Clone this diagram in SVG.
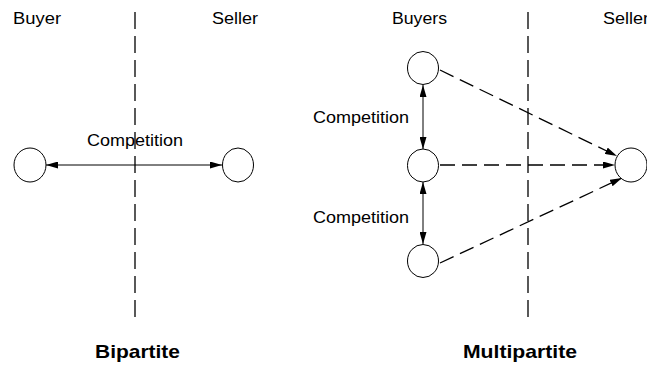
<svg xmlns="http://www.w3.org/2000/svg" width="647" height="365" viewBox="0 0 647 365">
<defs>
<style>
.lbl{font-family:"Liberation Sans",Arial,sans-serif;font-size:16px;fill:#000}
.ttl{font-family:"Liberation Sans",Arial,sans-serif;font-size:18.5px;font-weight:bold;fill:#000}
.node{fill:#fff;stroke:#000;stroke-width:1}
.div{stroke:#000;stroke-width:1.3;stroke-dasharray:17,7;fill:none}
.solid{stroke:#000;stroke-width:1;fill:none}
.dash{stroke:#000;stroke-width:1.3;stroke-dasharray:15,7;fill:none}
</style>
<marker id="ah" viewBox="0 0 12 7" refX="12" refY="3.5" markerWidth="12" markerHeight="7" markerUnits="userSpaceOnUse" orient="auto-start-reverse">
<path d="M0,0 L12,3.5 L0,7 z" fill="#000"/>
</marker>
</defs>
<rect width="647" height="365" fill="#fff"/>

<g id="bipartite-labels">
<text class="lbl" x="13" y="24" textLength="48" lengthAdjust="spacingAndGlyphs">Buyer</text>
<text class="lbl" x="212" y="24" textLength="46" lengthAdjust="spacingAndGlyphs">Seller</text>
<text class="ttl" x="95" y="358" textLength="85" lengthAdjust="spacingAndGlyphs">Bipartite</text>
</g>
<g id="multipartite-labels">
<text class="lbl" x="392" y="24" textLength="55" lengthAdjust="spacingAndGlyphs">Buyers</text>
<text class="lbl" x="603" y="24" textLength="46" lengthAdjust="spacingAndGlyphs">Seller</text>
<text class="ttl" x="463" y="358" textLength="114" lengthAdjust="spacingAndGlyphs">Multipartite</text>
</g>

<g id="dividers">
<line class="div" x1="135" y1="12" x2="135" y2="318"/>
<line class="div" x1="528" y1="12" x2="528" y2="318"/>
</g>

<g id="connectors">
<line class="solid" x1="46" y1="165" x2="222" y2="165" marker-start="url(#ah)" marker-end="url(#ah)"/>
<line class="solid" x1="423" y1="85" x2="423" y2="149" marker-start="url(#ah)" marker-end="url(#ah)"/>
<line class="solid" x1="423" y1="182" x2="423" y2="244" marker-start="url(#ah)" marker-end="url(#ah)"/>
<line class="dash" x1="440" y1="70" x2="617" y2="156" marker-end="url(#ah)"/>
<line class="dash" x1="440" y1="165" x2="615" y2="165" marker-end="url(#ah)"/>
<line class="dash" x1="440" y1="263" x2="622" y2="178" marker-end="url(#ah)"/>
</g>

<g id="edge-labels">
<text class="lbl" x="87" y="146" textLength="96" lengthAdjust="spacingAndGlyphs">Competition</text>
<text class="lbl" x="313" y="123" textLength="96" lengthAdjust="spacingAndGlyphs">Competition</text>
<text class="lbl" x="313" y="223" textLength="96" lengthAdjust="spacingAndGlyphs">Competition</text>
</g>

<g id="buyer-left"><ellipse class="node" cx="30" cy="165" rx="16" ry="17"/></g>
<g id="seller-left"><ellipse class="node" cx="238" cy="165" rx="15.5" ry="17"/></g>
<g id="buyer-1"><ellipse class="node" cx="423" cy="68" rx="15.5" ry="16.5"/></g>
<g id="buyer-2"><ellipse class="node" cx="423" cy="165.5" rx="15.5" ry="16.5"/></g>
<g id="buyer-3"><ellipse class="node" cx="423" cy="261" rx="15.5" ry="16.5"/></g>
<g id="seller-right"><ellipse class="node" cx="631" cy="165" rx="16" ry="17"/></g>
</svg>
